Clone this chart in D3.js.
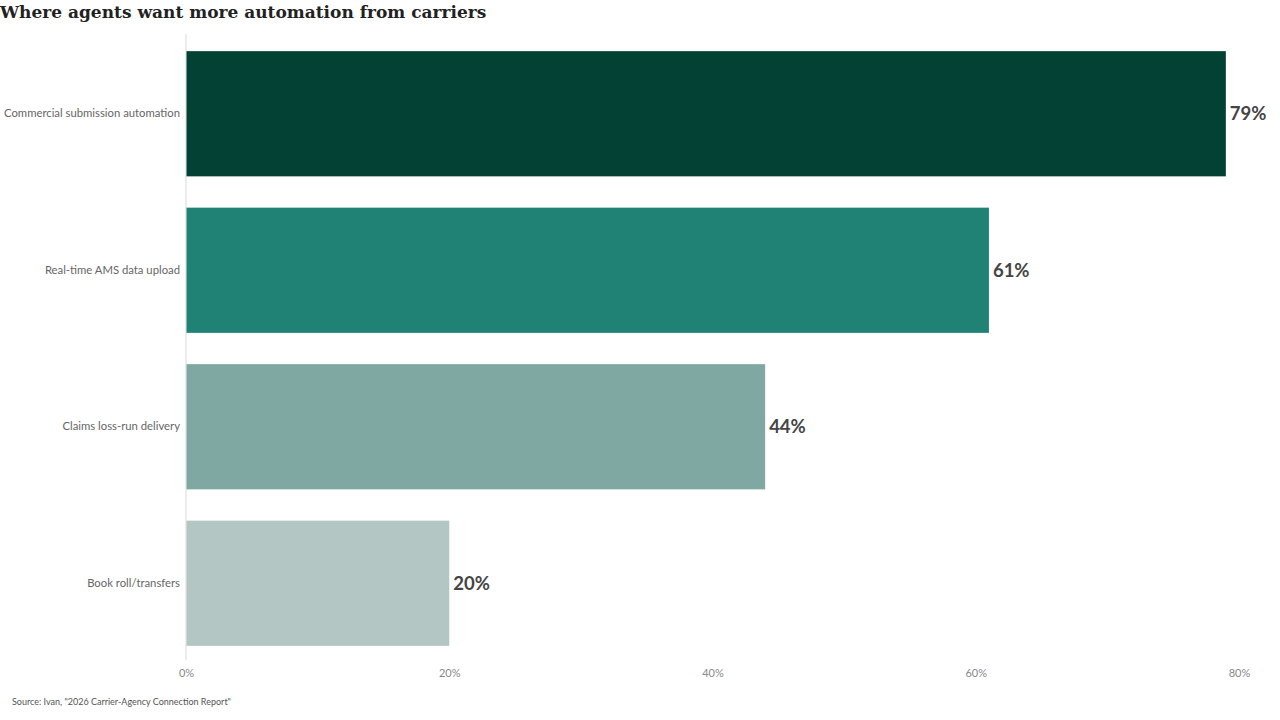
<!DOCTYPE html>
<html>
<head>
<meta charset="utf-8">
<script src="https://cdn.jsdelivr.net/npm/d3@7"></script>
<style>
  body{margin:0;background:#fff;}
  svg{display:block;}
</style>
</head>
<body>
<svg id="chart"></svg>
<script>
// data
var categories=["Commercial submission automation","Real-time AMS data upload","Claims loss-run delivery","Book roll/transfers"]
var values=[79,61,44,20]
var barColors=["#024134","#1f8274","#7fa8a2","#b4c6c3"]
var tickValues=[0,20,40,60,80]

var screen={width:1280,height:720}
var margins={left:186,right:41,top:35.5,bottom:58.5}

var svg=d3.select("#chart")
    .attr("width",screen.width)
    .attr("height",screen.height)

//title
svg.append("text")
    .attr("x",0)
    .attr("y",18)
    .attr("font-family","'DejaVu Serif', serif")
    .attr("font-weight","bold")
    .attr("font-size",17)
    .attr("fill","#222")
    .text("Where agents want more automation from carriers")

var xScale=d3.scaleLinear()
    .domain([0,80])
    .range([margins.left,screen.width-margins.right])
var yScale=d3.scaleBand()
    .domain(categories)
    .range([margins.top,screen.height-margins.bottom])
    .paddingInner(0.2)
    .paddingOuter(0.1)

//vertical baseline
svg.append("line")
    .attr("x1",xScale(0)).attr("x2",xScale(0))
    .attr("y1",34).attr("y2",660)
    .attr("stroke","#d9d9d9")
    .attr("stroke-width",1)

svg.selectAll(".bar")
    .data(values)
    .enter()
    .append("rect")
    .classed("bar",true)
    .attr("x",xScale(0)+0.5)
    .attr("y",function(d,i){return yScale(categories[i])})
    .attr("width",function(d){return xScale(d)-xScale(0)-0.5})
    .attr("height",yScale.bandwidth())
    .attr("fill",function(d,i){return barColors[i]})

//value labels
svg.selectAll(".val")
    .data(values)
    .enter()
    .append("text")
    .classed("val",true)
    .attr("x",function(d){return xScale(d)+4})
    .attr("y",function(d,i){return yScale(categories[i])+yScale.bandwidth()/2})
    .attr("dy","0.35em")
    .attr("font-family","Lato, sans-serif")
    .attr("font-weight","bold")
    .attr("font-size",18.5)
    .attr("fill","#444")
    .text(function(d){return d+"%"})

//category labels
var yAxis=d3.axisLeft(yScale).tickSize(0).tickPadding(6)
var yg=svg.append("g")
    .attr("transform","translate("+xScale(0)+",0)")
    .call(yAxis)
yg.select(".domain").remove()
yg.selectAll("text")
    .attr("font-family","Lato, sans-serif")
    .attr("font-size",11.3)
    .attr("fill","#666")

//x axis
var xAxis=d3.axisBottom(xScale)
    .tickValues(tickValues)
    .tickSize(0)
    .tickPadding(9)
    .tickFormat(function(d){return d+"%"})
var xg=svg.append("g")
    .attr("transform","translate(0,660)")
    .call(xAxis)
xg.select(".domain").remove()
xg.selectAll("text")
    .attr("font-family","Lato, sans-serif")
    .attr("font-size",11)
    .attr("fill","#888")

//source
svg.append("text")
    .attr("x",12)
    .attr("y",705)
    .attr("font-family","Lato, sans-serif")
    .attr("font-size",9)
    .attr("fill","#555")
    .text("Source: Ivan, \"2026 Carrier-Agency Connection Report\"")
</script>
</body>
</html>
